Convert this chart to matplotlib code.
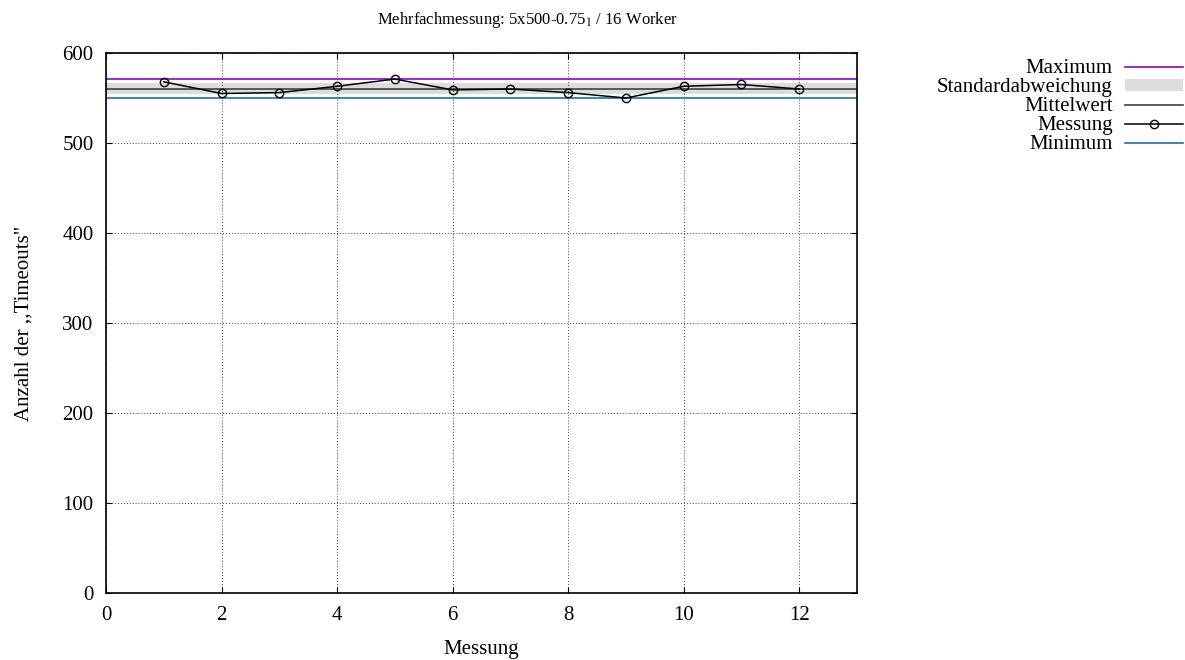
import numpy as np
import matplotlib.pyplot as plt
from matplotlib.lines import Line2D
from matplotlib.patches import Patch

plt.rcParams['font.family'] = ['Liberation Serif', 'DejaVu Serif']
plt.rcParams['mathtext.fontset'] = 'stix'

messung = [1, 2, 3, 4, 5, 6, 7, 8, 9, 10, 11, 12]
timeouts = [568, 555, 556, 563, 571, 559, 560, 556, 550, 563, 565, 560]

maximum = max(timeouts)
minimum = min(timeouts)
mittelwert = np.mean(timeouts)
stdabw = np.std(timeouts, ddof=1)

FS = 15

fig = plt.figure(figsize=(11.85, 6.6), dpi=100)
ax = fig.add_axes([106 / 1185, 1 - 593 / 660, 751 / 1185, 540 / 660])

ax.axhspan(mittelwert - stdabw, mittelwert + stdabw, color='#dcdcdc', lw=0, zorder=1)
ax.axhline(maximum, color='#9400d3', lw=1.2, zorder=2)
ax.axhline(minimum, color='#1f6fa8', lw=1.2, zorder=2)
ax.axhline(mittelwert, color='#404040', lw=1.2, zorder=2)
ax.plot(messung, timeouts, color='black', lw=1.1, marker='o', ms=6,
        mfc='none', mec='black', mew=1.0, zorder=3)

ax.set_xlim(0, 13)
ax.set_ylim(0, 600)
ax.set_xticks(range(0, 13, 2))
ax.set_yticks(range(0, 601, 100))
ax.grid(True, color='black', linestyle=(0, (1, 2.5)), lw=0.6)
ax.tick_params(direction='in', top=True, right=True, length=4, labelsize=FS, pad=9)
for s in ax.spines.values():
    s.set_linewidth(1.2)

ax.set_xlabel('Messung', fontsize=FS, labelpad=11)
ax.set_ylabel('Anzahl der ,,Timeouts"', fontsize=FS, labelpad=21)
fig.text(0.445, 0.970, r'Mehrfachmessung: 5x500-0.75$_1$ / 16 Worker',
         fontsize=12, ha='center', va='center')

handles = [
    Line2D([], [], color='#9400d3', lw=1.2),
    Patch(facecolor='#dcdcdc', edgecolor='none'),
    Line2D([], [], color='#404040', lw=1.2),
    Line2D([], [], color='black', lw=1.1, marker='o', ms=6, mfc='none', mew=1.0),
    Line2D([], [], color='#1f6fa8', lw=1.2),
]
labels = ['Maximum', 'Standardabweichung', 'Mittelwert', 'Messung', 'Minimum']
leg = fig.legend(handles, labels, loc='upper right', bbox_to_anchor=(1183 / 1185, 0.910),
                 frameon=False, markerfirst=False, fontsize=FS,
                 handlelength=2.8, handletextpad=0.58, labelspacing=0.0,
                 borderpad=0, borderaxespad=0, handleheight=0.5)
for t in leg.get_texts():
    t.set_ha('right')

fig.savefig('out.png', dpi=100)
